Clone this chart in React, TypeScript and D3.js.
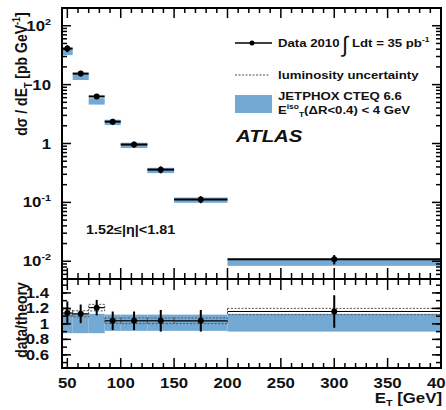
import React from "react";
import * as d3 from "d3";

const binLo = [45, 55, 70, 85, 100, 125, 150, 200];
const binHi = [55, 70, 85, 100, 125, 150, 200, 400];
const binCenter = [50, 62.5, 77.5, 92.5, 112.5, 137.5, 175, 300];
const dataXsec = [41, 15.4, 6.3, 2.35, 0.96, 0.36, 0.112, 0.0108];
const theoryXsec = [36, 13.6, 5.2, 2.26, 0.92, 0.345, 0.108, 0.0093];
const bandLo = [0.88, 0.88, 0.88, 0.91, 0.91, 0.91, 0.91, 0.9];
const bandHi = [1.13, 1.13, 1.13, 1.12, 1.12, 1.12, 1.12, 1.13];
const ratio = [1.14, 1.13, 1.21, 1.04, 1.04, 1.04, 1.04, 1.16];
const ratioErr = [0.15, 0.12, 0.1, 0.12, 0.12, 0.14, 0.14, 0.21];
const lumiRel = 0.035;
const xTicks = [50, 100, 150, 200, 250, 300, 350, 400];
const logMajor = [0.01, 0.1, 1, 10, 100];
const logLabels = [["10", "-2"], ["10", "-1"], ["1", ""], ["10", ""], ["10", "2"]];
const ratioTicks = [0.6, 0.8, 1, 1.2, 1.4];
const ratioLabels = ["0.6", "0.8", "1", "1.2", "1.4"];

const BLUE = "#74a9d4";
const FONT = "'Liberation Sans', Arial, Helvetica, sans-serif";
const SX = 1.2;

const L = 62, R = 441, T0 = 8, MID = 279, B = 368;

const x = d3.scaleLinear().domain([45, 400]).range([L, R]);
const yTop = d3.scaleLog().domain([0.005, 200]).range([MID, T0]);
const yR = d3.scaleLinear().domain([0.43, 1.58]).range([B, MID]);

function Txt({ x, y, anchor = "start", size = 14, italic = false, children }: any) {
  return (
    <text
      transform={`translate(${x},${y}) scale(${SX},1)`}
      textAnchor={anchor}
      fontSize={size}
      fontWeight="bold"
      fontStyle={italic ? "italic" : "normal"}
      fontFamily={FONT}
      fill="#111"
    >
      {children}
    </text>
  );
}

export default function App() {
  const minorX = d3.range(50, 401, 10).filter((v) => v % 50 !== 0);
  const logMinor: number[] = [];
  for (let e = -3; e <= 2; e++) {
    for (let m = 2; m <= 9; m++) {
      const v = m * Math.pow(10, e);
      if (v >= 0.005 && v <= 200) logMinor.push(v);
    }
  }
  const ticks: any[] = [];
  xTicks.forEach((v, i) => {
    const px = x(v);
    ticks.push(<line key={"tt" + i} x1={px} x2={px} y1={T0} y2={T0 + 10} />);
    ticks.push(<line key={"tm" + i} x1={px} x2={px} y1={MID - 11} y2={MID + 11} />);
    ticks.push(<line key={"tb" + i} x1={px} x2={px} y1={B} y2={B - 10} />);
  });
  minorX.forEach((v, i) => {
    const px = x(v);
    ticks.push(<line key={"mt" + i} x1={px} x2={px} y1={T0} y2={T0 + 5} />);
    ticks.push(<line key={"mm" + i} x1={px} x2={px} y1={MID - 6} y2={MID + 6} />);
    ticks.push(<line key={"mb" + i} x1={px} x2={px} y1={B} y2={B - 5} />);
  });
  logMajor.forEach((v, i) => {
    const py = yTop(v);
    ticks.push(<line key={"ly" + i} x1={L} x2={L + 9} y1={py} y2={py} />);
    ticks.push(<line key={"ry" + i} x1={R} x2={R - 9} y1={py} y2={py} />);
  });
  logMinor.forEach((v, i) => {
    const py = yTop(v);
    ticks.push(<line key={"lym" + i} x1={L} x2={L + 5} y1={py} y2={py} />);
    ticks.push(<line key={"rym" + i} x1={R} x2={R - 5} y1={py} y2={py} />);
  });
  ratioTicks.forEach((v, i) => {
    const py = yR(v);
    ticks.push(<line key={"lr" + i} x1={L} x2={L + 9} y1={py} y2={py} />);
    ticks.push(<line key={"rr" + i} x1={R} x2={R - 9} y1={py} y2={py} />);
  });
  d3.range(0.5, 1.56, 0.1).forEach((v, i) => {
    const py = yR(v);
    ticks.push(<line key={"lrm" + i} x1={L} x2={L + 5} y1={py} y2={py} />);
    ticks.push(<line key={"rrm" + i} x1={R} x2={R - 5} y1={py} y2={py} />);
  });

  return (
    <svg
      width={446}
      height={410}
      style={{ position: "absolute", left: 0, top: 0, background: "#fff" }}
    >
      <defs>
        <clipPath id="cTop">
          <rect x={L} y={T0} width={R - L} height={MID - T0} />
        </clipPath>
        <clipPath id="cBot">
          <rect x={L} y={MID} width={R - L} height={B - MID} />
        </clipPath>
      </defs>

      <g clipPath="url(#cTop)">
        {binLo.map((lo, i) => (
          <rect
            key={"tb" + i}
            x={x(lo)}
            width={x(binHi[i]) - x(lo)}
            y={yTop(theoryXsec[i] * bandHi[i])}
            height={yTop(theoryXsec[i] * bandLo[i]) - yTop(theoryXsec[i] * bandHi[i])}
            fill={BLUE}
          />
        ))}
        {binLo.map((lo, i) => {
          const rel = ratioErr[i] / ratio[i];
          const py = yTop(dataXsec[i]);
          return (
            <g key={"td" + i} stroke="#000" strokeWidth={2}>
              <line x1={x(lo)} x2={x(binHi[i])} y1={py} y2={py} />
              <line
                x1={x(binCenter[i])}
                x2={x(binCenter[i])}
                y1={yTop(dataXsec[i] * (1 + rel))}
                y2={yTop(dataXsec[i] * (1 - rel))}
              />
              <circle cx={x(binCenter[i])} cy={py} r={3} fill="#000" stroke="none" />
            </g>
          );
        })}
      </g>

      <g clipPath="url(#cBot)">
        {binLo.map((lo, i) => (
          <rect
            key={"rb" + i}
            x={x(lo)}
            width={x(binHi[i]) - x(lo)}
            y={yR(bandHi[i])}
            height={yR(bandLo[i]) - yR(bandHi[i])}
            fill={BLUE}
          />
        ))}
        {binLo.map((lo, i) => (
          <rect
            key={"rl" + i}
            x={x(lo)}
            width={x(binHi[i]) - x(lo)}
            y={yR(ratio[i] * (1 + lumiRel))}
            height={yR(ratio[i] * (1 - lumiRel)) - yR(ratio[i] * (1 + lumiRel))}
            fill="none"
            stroke="#555"
            strokeWidth={1}
            strokeDasharray="2,1.5"
          />
        ))}
        {binLo.map((lo, i) => {
          const py = yR(ratio[i]);
          return (
            <g key={"rd" + i} stroke="#000" strokeWidth={2}>
              <line x1={x(lo)} x2={x(binHi[i])} y1={py} y2={py} strokeWidth={1.2} />
              <line
                x1={x(binCenter[i])}
                x2={x(binCenter[i])}
                y1={yR(ratio[i] + ratioErr[i])}
                y2={yR(ratio[i] - ratioErr[i])}
              />
              <circle cx={x(binCenter[i])} cy={py} r={3} fill="#000" stroke="none" />
            </g>
          );
        })}
      </g>

      <g stroke="#000" strokeWidth={1.5} fill="none">
        <rect x={L} y={T0} width={R - L} height={MID - T0} strokeWidth={2} />
        <rect x={L} y={MID} width={R - L} height={B - MID} strokeWidth={2} />
        {ticks}
      </g>

      {logMajor.map((v, i) => (
        <Txt key={"yl" + i} x={51} y={yTop(v) + 5} anchor="end" size={14}>
          {logLabels[i][0]}
          {logLabels[i][1] !== "" && (
            <tspan dy={-6} fontSize={9}>
              {logLabels[i][1]}
            </tspan>
          )}
        </Txt>
      ))}
      {ratioTicks.map((v, i) => (
        <Txt key={"rl" + i} x={49} y={yR(v) + 5} anchor="end" size={14}>
          {ratioLabels[i]}
        </Txt>
      ))}
      {xTicks.map((v, i) => (
        <Txt key={"xl" + i} x={x(v)} y={388} anchor="middle" size={14}>
          {String(v)}
        </Txt>
      ))}

      <text
        transform={`translate(27,74) scale(${SX},1) rotate(-90)`}
        textAnchor="middle"
        fontSize={14}
        fontWeight="bold"
        fontFamily={FONT}
        fill="#111"
      >
        dσ / dE<tspan dy={4} fontSize={9}>T</tspan>
        <tspan dy={-4}> [pb GeV</tspan>
        <tspan dy={-6} fontSize={9}>-1</tspan>
        <tspan dy={6}>]</tspan>
      </text>
      <text
        transform={`translate(27,320) scale(${SX},1) rotate(-90)`}
        textAnchor="middle"
        fontSize={14}
        fontWeight="bold"
        fontFamily={FONT}
        fill="#111"
      >
        data/theory
      </text>
      <Txt x={442} y={403} anchor="end" size={14}>
        E<tspan dy={3} fontSize={9}>T</tspan>
        <tspan dy={-3}> [GeV]</tspan>
      </Txt>

      <line x1={235} x2={272} y1={43} y2={43} stroke="#000" strokeWidth={1.5} />
      <circle cx={252} cy={43} r={2.5} fill="#000" />
      <Txt x={278} y={47} size={11}>
        Data 2010
      </Txt>
      <text x={342} y={52} fontSize={22} fontFamily={FONT} fill="#111">
        ∫
      </text>
      <Txt x={352} y={47} size={11}>
        Ldt = 35 pb<tspan dy={-5} fontSize={7}>-1</tspan>
      </Txt>
      <line
        x1={235}
        x2={270}
        y1={75}
        y2={75}
        stroke="#888"
        strokeWidth={1.5}
        strokeDasharray="2,1.5"
      />
      <Txt x={278} y={79} size={11}>
        luminosity uncertainty
      </Txt>
      <rect x={235} y={95} width={37} height={18} fill={BLUE} />
      <Txt x={278} y={100} size={11}>
        JETPHOX CTEQ 6.6
      </Txt>
      <Txt x={278} y={114} size={11}>
        E<tspan dy={-5} fontSize={7}>iso</tspan>
        <tspan dy={8} fontSize={7}>T</tspan>
        <tspan dy={-3}>(ΔR&lt;0.4) &lt; 4 GeV</tspan>
      </Txt>
      <Txt x={236} y={142} size={17} italic>
        ATLAS
      </Txt>
      <Txt x={86} y={234} size={12}>
        1.52≤|η|&lt;1.81
      </Txt>
    </svg>
  );
}
